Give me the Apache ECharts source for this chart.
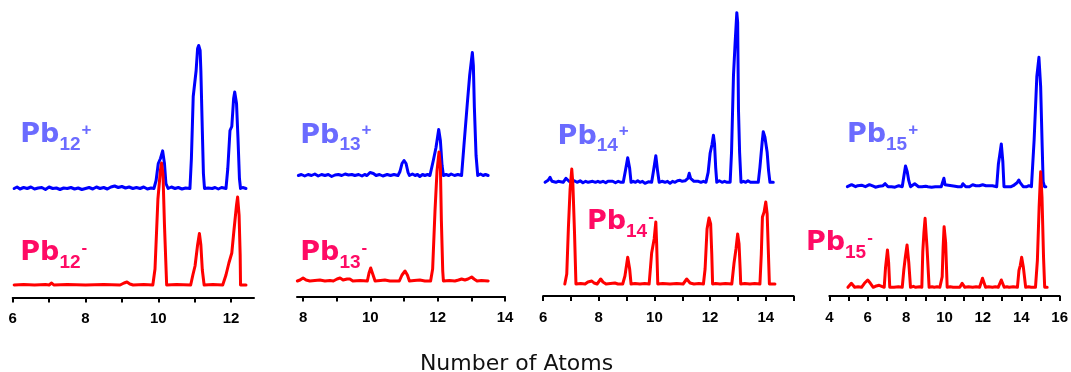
<!DOCTYPE html>
<html>
<head>
<meta charset="utf-8">
<script src="https://cdn.jsdelivr.net/npm/echarts@6/dist/echarts.min.js"></script>
<style>
  html, body { margin: 0; padding: 0; background: #fff; }
  #chart { width: 1071px; height: 372px; }
</style>
</head>
<body>
<div id="chart"></div>
<script>
// Cluster sizes shown in the four panels (Pb12 … Pb15)
const clusterSizes = [12, 13, 14, 15];

// Mass-spectrum traces: [number of atoms, intensity above the trace baseline]
const cation12 = [[6.04,0],[6.12,1.5],[6.2,-0.5],[6.3,1],[6.4,0],[6.5,1.5],[6.6,-0.5],[6.7,0.5],[6.8,1],[6.9,-1],[7.0,1.5],[7.1,0],[7.2,0.5],[7.3,-1],[7.4,0.5],[7.5,0],[7.6,1],[7.7,-0.5],[7.8,0.5],[7.9,-1],[8.0,0],[8.1,1],[8.2,-0.5],[8.3,1.5],[8.4,0],[8.5,1],[8.6,-0.5],[8.7,1.5],[8.8,2.5],[8.9,1],[9.0,2],[9.1,0.5],[9.2,1.5],[9.3,0],[9.4,1],[9.5,0],[9.6,1.5],[9.7,-0.5],[9.8,0.5],[9.88,0],[9.94,8],[10.0,25],[10.06,30],[10.12,37.6],[10.17,25],[10.21,5],[10.27,0],[10.36,1.5],[10.46,0],[10.55,1],[10.65,-0.5],[10.75,0.5],[10.87,0],[10.91,30],[10.96,92],[11.04,118],[11.08,140],[11.11,143],[11.15,138],[11.17,118],[11.21,58],[11.24,15],[11.27,0],[11.32,2],[11.37,0.5],[11.42,2],[11.48,0],[11.56,1],[11.65,-0.5],[11.74,1],[11.86,0],[11.91,20],[11.97,58],[12.02,62],[12.07,90],[12.10,96.6],[12.15,85],[12.19,50],[12.23,10],[12.26,0],[12.32,1],[12.41,0]];
const anion12 = [[6.04,0],[6.3,0.5],[6.6,0],[6.9,0.5],[7.0,0],[7.07,2],[7.13,0],[7.5,0.5],[8.0,0],[8.5,0.5],[8.95,0],[9.06,2],[9.14,3],[9.22,1],[9.31,0],[9.6,0.5],[9.85,0],[9.91,16],[9.99,86],[10.06,115],[10.09,122],[10.13,110],[10.17,60],[10.23,0],[10.5,0.5],[10.89,0],[10.95,10],[11.01,19],[11.08,40],[11.13,51.5],[11.17,40],[11.21,15],[11.26,0],[11.5,0.5],[11.77,0],[11.86,10],[11.94,22],[12.02,32],[12.08,55],[12.15,80],[12.18,88],[12.22,70],[12.25,30],[12.26,0],[12.41,0]];

const cation13 = [[7.86,0],[7.95,1],[8.05,-0.5],[8.15,1],[8.25,0],[8.35,1.5],[8.45,-0.5],[8.55,1],[8.65,0],[8.75,1],[8.85,-1],[8.95,0.5],[9.05,1],[9.15,0],[9.25,1.5],[9.35,0.5],[9.45,1],[9.54,0],[9.65,1],[9.75,-0.5],[9.83,1],[9.9,0],[9.99,3],[10.04,4],[10.09,2],[10.17,0],[10.27,1],[10.37,-0.5],[10.5,1],[10.6,0],[10.7,1],[10.82,0],[10.88,4],[10.94,12],[11.0,15],[11.06,12],[11.12,3],[11.16,0],[11.25,1.5],[11.33,0],[11.4,1],[11.47,-1],[11.55,1],[11.62,0],[11.7,1],[11.77,0],[11.87,15],[11.95,28],[12.03,46],[12.08,35],[12.13,10],[12.17,0],[12.25,1],[12.33,0],[12.4,1.5],[12.5,0],[12.6,1],[12.71,0],[12.78,30],[12.88,72],[12.95,100],[13.03,123],[13.06,110],[13.09,68],[13.14,20],[13.19,0],[13.27,1.5],[13.35,0],[13.42,1],[13.5,0]];
const anion13 = [[7.83,0],[7.91,1],[8.0,3],[8.09,1],[8.2,0],[8.35,0.5],[8.5,1],[8.65,0],[8.8,0.5],[8.9,0],[9.01,2],[9.1,3],[9.19,1],[9.31,2],[9.39,2],[9.48,0],[9.7,0.5],[9.91,0],[9.96,8],[10.01,13],[10.06,8],[10.14,0],[10.3,0.5],[10.43,1],[10.58,0],[10.86,0],[10.94,6],[11.03,10],[11.1,6],[11.16,0],[11.3,0.5],[11.47,1],[11.62,0],[11.79,0],[11.85,12],[11.92,70],[11.98,110],[12.04,129],[12.08,115],[12.11,60],[12.15,10],[12.17,0],[12.35,0.5],[12.51,0],[12.62,1],[12.71,2],[12.81,1],[12.9,2],[13.01,4],[13.08,2],[13.17,0],[13.3,0.5],[13.5,0]];

const cation14 = [[6.07,0],[6.18,2],[6.25,5],[6.32,1],[6.46,0],[6.54,1],[6.61,2.5],[6.72,0],[6.82,4],[6.93,1],[7.04,0],[7.12,1.5],[7.22,0],[7.33,1.5],[7.43,-0.5],[7.53,1],[7.62,0],[7.69,-1],[7.78,1],[7.88,0],[7.97,1],[8.05,0],[8.15,1],[8.25,-0.5],[8.33,1],[8.4,0],[8.5,1],[8.6,-0.5],[8.7,1],[8.8,0],[8.88,0],[8.96,12],[9.04,24.6],[9.11,14],[9.16,0],[9.24,1],[9.32,0],[9.4,1.5],[9.48,0],[9.57,1],[9.66,-1],[9.78,0.5],[9.9,0],[9.97,12],[10.05,26.6],[10.11,12],[10.17,0],[10.27,1],[10.38,0],[10.47,1],[10.56,-1],[10.65,1],[10.74,0],[10.83,1.5],[10.92,2],[11.0,1],[11.04,3],[11.1,1.5],[11.14,2],[11.2,4],[11.25,9],[11.3,4],[11.35,2],[11.42,1],[11.49,0],[11.58,1],[11.67,0],[11.76,1],[11.85,0],[11.93,10],[12.0,29],[12.07,38],[12.12,47],[12.16,38],[12.2,15],[12.24,0],[12.33,1.5],[12.43,0],[12.52,1],[12.61,0],[12.72,0],[12.77,30],[12.84,107],[12.9,140],[12.96,169.6],[12.99,160],[13.02,72],[13.06,30],[13.11,0],[13.2,1],[13.28,0],[13.36,1.5],[13.45,0],[13.51,1],[13.6,0],[13.73,0],[13.79,15],[13.87,40],[13.91,50.6],[13.97,45],[14.05,30],[14.1,12],[14.15,0],[14.22,1],[14.27,0]];
const anion14 = [[6.78,0],[6.85,10],[6.91,57],[6.97,95],[7.03,115],[7.07,100],[7.13,50],[7.18,0],[7.35,0.5],[7.51,0],[7.61,2],[7.75,3],[7.83,1],[7.94,0],[8.07,5],[8.15,2],[8.26,0],[8.42,0.5],[8.58,1],[8.69,0],[8.86,0],[8.94,8],[9.04,26.7],[9.11,15],[9.16,0],[9.3,0.5],[9.48,0],[9.65,0.5],[9.81,0],[9.9,31],[9.99,45],[10.05,62],[10.08,40],[10.12,0],[10.3,0.5],[10.56,0],[10.8,0.5],[11.03,0],[11.16,5],[11.28,1],[11.42,0],[11.6,0.5],[11.76,0],[11.82,15],[11.89,55],[11.96,66],[12.02,60],[12.06,30],[12.09,0],[12.2,0.5],[12.36,0],[12.55,0.5],[12.78,0],[12.86,21],[12.93,35],[12.99,50],[13.04,40],[13.08,15],[13.1,0],[13.25,0.5],[13.43,0],[13.6,0.5],[13.79,0],[13.84,30],[13.88,67],[13.94,72],[14.0,82],[14.05,70],[14.09,35],[14.13,0],[14.33,0]];

const cation15 = [[4.94,0],[5.05,1],[5.16,2],[5.26,0.5],[5.37,0],[5.48,1],[5.58,0],[5.68,1.5],[5.78,-0.5],[5.88,0],[5.98,1],[6.09,2],[6.19,0],[6.29,0.5],[6.4,-0.5],[6.5,1.5],[6.6,0.5],[6.7,0],[6.8,1],[6.91,3],[6.98,1],[7.06,0],[7.16,1.5],[7.24,0],[7.32,1],[7.42,-0.5],[7.52,0],[7.62,1],[7.72,0],[7.8,0],[7.88,10],[7.97,20.7],[8.06,15],[8.14,6],[8.23,0],[8.33,1],[8.45,3],[8.55,1],[8.65,0],[8.75,1.5],[8.83,0],[8.91,2],[9.02,0.5],[9.14,0],[9.24,1],[9.33,-0.5],[9.42,1],[9.52,0],[9.62,1],[9.72,0],[9.83,0],[9.9,2],[9.97,8.4],[10.03,2],[10.09,0],[10.2,1.5],[10.3,0],[10.38,1],[10.45,0],[10.55,0.5],[10.62,-0.5],[10.7,0],[10.8,1],[10.88,0],[10.96,3],[11.03,1],[11.11,0],[11.2,1],[11.3,0],[11.38,1],[11.47,2],[11.56,0],[11.64,1],[11.73,0],[11.82,1],[11.9,0],[11.99,2],[12.08,0.5],[12.16,1],[12.24,0],[12.32,1],[12.4,0],[12.5,1],[12.6,0],[12.72,0],[12.81,23],[12.88,32],[12.96,42.7],[13.04,25],[13.1,0],[13.2,1],[13.28,0],[13.37,1],[13.47,0],[13.58,1],[13.68,2],[13.78,4],[13.87,6.7],[13.94,4],[13.99,2],[14.1,0],[14.2,1],[14.29,0],[14.4,1],[14.53,0],[14.67,46.7],[14.81,110],[14.92,129.4],[15.01,100],[15.09,40],[15.14,5],[15.21,0],[15.28,0]];
const anion15 = [[4.97,0],[5.07,2],[5.15,4],[5.24,2],[5.32,0],[5.5,0.5],[5.68,0],[5.83,4],[6.0,7.3],[6.14,4],[6.29,0],[6.4,1],[6.5,0],[6.6,2],[6.7,0],[6.86,0],[6.93,20],[7.03,37.3],[7.09,25],[7.15,0],[7.37,0],[7.6,0.5],[7.8,0],[7.88,17],[7.96,30],[8.05,42.3],[8.14,25],[8.23,0],[8.38,1],[8.5,0],[8.7,0.5],[8.82,0],[8.87,35.6],[8.93,55],[8.99,69],[9.09,40],[9.2,0],[9.35,0.5],[9.47,0],[9.62,0.5],[9.76,0],[9.88,10.6],[9.93,40],[9.98,60.6],[10.06,45],[10.14,0],[10.3,0.5],[10.45,0],[10.8,0],[10.92,4],[11.06,0],[11.25,0.5],[11.47,0],[11.65,0.5],[11.83,0],[11.98,9],[12.14,0],[12.3,0.5],[12.5,0],[12.65,0.5],[12.8,0],[12.96,7.3],[13.11,0],[13.25,0.5],[13.37,0],[13.58,0.5],[13.8,0],[13.88,17],[13.95,22],[14.02,30],[14.11,20],[14.23,0],[14.38,0.5],[14.52,0],[14.74,0],[14.84,27],[14.93,80],[15.01,115.6],[15.08,90],[15.16,30],[15.22,0],[15.35,0]];

// Axis extents and tick / label values for each panel
const axisMin = [6, 7.82, 6, 4];
const axisMax = [12.63, 14, 15, 16];
const tickValues = [
  [6, 7, 8, 9, 10, 11, 12],
  [8, 9, 10, 11, 12, 13, 14],
  [6, 7, 8, 9, 10, 11, 12, 13, 14, 15],
  [4, 5, 6, 7, 8, 9, 10, 11, 12, 13, 14, 15, 16]
];
const tickLabels = [
  [6, 8, 10, 12],
  [8, 10, 12, 14],
  [6, 8, 10, 12, 14],
  [4, 6, 8, 10, 12, 14, 16]
];
const axisTitle = 'Number of Atoms';

const cations = [cation12, cation13, cation14, cation15];
const anions = [anion12, anion13, anion14, anion15];

// ---- layout (pixels) ----
const H = 372;
const panels = [
  { left: 12.7,  width: 241.3, axisY: 297.5, cationBase: 109,   anionBase: 12.5,
    cationLabel: [20.3, 121.4], anionLabel: [20.3, 239.8] },
  { left: 297.0, width: 208.0, axisY: 296.5, cationBase: 121,   anionBase: 15.5,
    cationLabel: [300.3, 122.1], anionLabel: [300.3, 239.8] },
  { left: 543.1, width: 250.5, axisY: 296,   cationBase: 113.7, anionBase: 12,
    cationLabel: [557.6, 123.1], anionLabel: [586.9, 208.8] },
  { left: 829.3, width: 234.0, axisY: 296,   cationBase: 109.3, anionBase: 8.7,
    cationLabel: [846.9, 121.4], anionLabel: [805.9, 229.8] }
];

const BLUE = '#0000ff';
const RED = '#ff0000';
const BLUE_TEXT = '#6b6bff';
const RED_TEXT = '#ff0a64';
const TICK_FONT = '"Liberation Sans", Arial, sans-serif';

const grids = [], xAxes = [], yAxes = [], series = [], graphics = [];

panels.forEach((p, i) => {
  grids.push({ left: p.left, width: p.width, top: 0, bottom: H - p.axisY, containLabel: false });
  xAxes.push({
    gridIndex: i, type: 'value', min: axisMin[i], max: axisMax[i],
    axisLine: { show: true, onZero: false, lineStyle: { color: '#000', width: 2 } },
    axisTick: { show: true, customValues: tickValues[i], length: 5, inside: false,
                lineStyle: { color: '#000', width: 2 } },
    axisLabel: { show: true, customValues: tickLabels[i], margin: 14, color: '#000',
                 fontWeight: 'bold', fontSize: 15, fontFamily: TICK_FONT },
    splitLine: { show: false }
  });
  yAxes.push({ gridIndex: i, type: 'value', min: 0, max: p.axisY, show: false });

  const lift = (arr, base) => arr.map(d => [d[0], d[1] + base]);
  series.push({
    type: 'line', xAxisIndex: i, yAxisIndex: i, data: lift(cations[i], p.cationBase),
    symbol: 'none', smooth: false, silent: true, z: 2,
    lineStyle: { color: BLUE, width: 3, join: 'round', cap: 'round' }
  });
  series.push({
    type: 'line', xAxisIndex: i, yAxisIndex: i, data: lift(anions[i], p.anionBase),
    symbol: 'none', smooth: false, silent: true, z: 3,
    lineStyle: { color: RED, width: 3, join: 'round', cap: 'round' }
  });

  const n = clusterSizes[i];
  const ionLabel = (pos, charge, color) => ({
    type: 'text', x: pos[0], y: pos[1], silent: true, z: 10,
    style: {
      text: '{m|Pb}{s|' + n + '}{c|' + charge + '}',
      fill: color,
      rich: {
        m: { fontFamily: '"DejaVu Sans", Verdana, sans-serif', fontWeight: 'bold', fontSize: 27,
             fill: color, verticalAlign: 'top' },
        s: { fontFamily: TICK_FONT, fontWeight: 'bold', fontSize: 19,
             fill: color, verticalAlign: 'top', padding: [13.6, 0, 0, 0] },
        c: { fontFamily: TICK_FONT, fontWeight: 'bold', fontSize: 17,
             fill: color, verticalAlign: 'top', padding: [0, 0, 0, 1] }
      }
    }
  });
  graphics.push(ionLabel(p.cationLabel, '+', BLUE_TEXT));
  graphics.push(ionLabel(p.anionLabel, '-', RED_TEXT));
});

graphics.push({
  type: 'text', x: 516.5, y: 363.8, silent: true,
  style: {
    text: axisTitle, fill: '#111',
    font: '22px "DejaVu Sans", Verdana, sans-serif',
    align: 'center', verticalAlign: 'middle'
  }
});

const chart = echarts.init(document.getElementById('chart'), null, { renderer: 'canvas' });
chart.setOption({
  animation: false,
  backgroundColor: '#ffffff',
  grid: grids,
  xAxis: xAxes,
  yAxis: yAxes,
  series: series,
  graphic: graphics
});
</script>
</body>
</html>
